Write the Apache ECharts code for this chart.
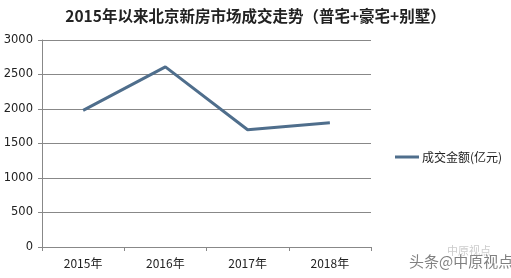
<!DOCTYPE html>
<html><head><meta charset="utf-8">
<script src="https://cdn.jsdelivr.net/npm/echarts@6/dist/echarts.min.js"></script>
<style>html,body{margin:0;padding:0;background:#fff}#c{width:511px;height:278px}</style>
</head><body><div id="c"></div>
<script>
const categories = ['2015年','2016年','2017年','2018年'];
const values = [1980, 2610, 1700, 1800];
const seriesName = '成交金额(亿元)';
const titleText = '2015年以来北京新房市场成交走势（普宅+豪宅+别墅）';

const chart = echarts.init(document.getElementById('c'), null, {renderer:'canvas'});
chart.setOption({
  animation:false,
  backgroundColor:'#fff',
  title:{text:titleText,left:'center',top:3,textStyle:{fontFamily:'Noto Sans CJK SC',fontWeight:'bold',fontSize:15.5,color:'#222'}},
  grid:{left:42,right:140,top:40,bottom:31},
  legend:{data:[{name:seriesName,icon:'rect'}],orient:'vertical',left:390,top:146,itemWidth:24,itemHeight:3,itemGap:4,
    textStyle:{fontFamily:'Noto Sans CJK SC',fontSize:12,color:'#222',padding:[0,0,0,-2]}},
  xAxis:{type:'category',data:categories,boundaryGap:true,
    axisLine:{lineStyle:{color:'#888',width:1}},
    axisTick:{show:true,length:4,lineStyle:{color:'#888'}},
    axisLabel:{fontFamily:'Noto Sans CJK SC',fontSize:12,color:'#222',margin:10}},
  yAxis:{type:'value',min:0,max:3000,interval:500,
    axisLine:{show:true,lineStyle:{color:'#888'}},
    axisTick:{show:true,length:4,lineStyle:{color:'#888'}},
    splitLine:{lineStyle:{color:'#888',width:1}},
    axisLabel:{fontFamily:'DejaVu Sans',fontSize:11.5,color:'#222',margin:9,formatter:v=>String(v)}},
  series:[{name:seriesName,type:'line',data:values,symbol:'none',lineStyle:{color:'#4f6e8c',width:3},itemStyle:{color:'#4f6e8c'}}],
  graphic:[
    {type:'text',left:409,top:254,style:{text:'头条@中原视点',fontFamily:'Noto Sans CJK SC',fontSize:15,fill:'#555',opacity:0.75}},
    {type:'text',left:447,top:245,style:{text:'中原视点',fontFamily:'Noto Sans CJK SC',fontSize:11,fill:'#999',opacity:0.5}}
  ]
});
</script></body></html>
